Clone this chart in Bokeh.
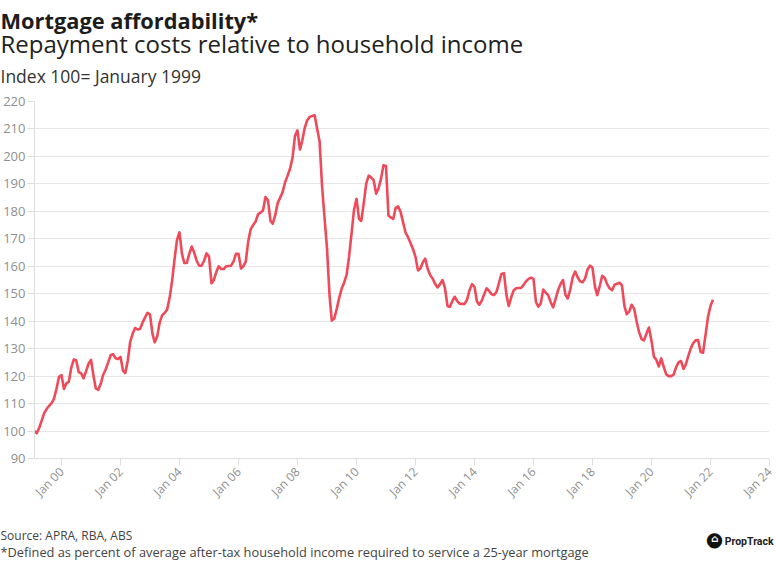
import pandas as pd
from math import pi
from bokeh.plotting import figure
from bokeh.layouts import column
from bokeh.models import (Range1d, FixedTicker, DatetimeTickFormatter, Label,
                          ColumnDataSource)
from bokeh.embed import file_html
from bokeh.resources import INLINE

# ---- data: monthly index (100 = January 1999), Jan 1999 .. Jan 2022 ----
start_year = 1999
v1999 = [100, 99.2, 101.2, 103.8, 106.5, 108, 109.2, 110.2, 111.8, 115.5, 119.7, 120.4]
v2000 = [115.3, 117.3, 118, 123, 126, 125.8, 121.5, 121, 119.2, 121.8, 124.5, 125.9]
v2001 = [120, 115.5, 115, 117.2, 120.5, 122.4, 125, 127.6, 128, 126.5, 126.2, 127]
v2002 = [122, 121.1, 125.6, 132.5, 135.5, 137.5, 137, 137.2, 139.5, 141.4, 143, 142.5]
v2003 = [135.4, 132.3, 134.5, 139.5, 142.2, 143, 144.2, 148.5, 154.5, 162.5, 169.5, 172.4]
v2004 = [164.5, 161.2, 161.2, 164.5, 167.2, 165, 162, 160.2, 160.2, 162, 164.7, 163.5]
v2005 = [153.8, 155, 157.9, 160, 159, 159, 160, 160.1, 160.2, 161.8, 164.5, 164.5]
v2006 = [159.2, 160, 161.7, 169, 173.5, 175, 176.3, 179, 179.5, 180.4, 185.2, 184]
v2007 = [176.5, 175.5, 178.6, 183, 185, 187, 190.6, 193, 195.5, 199.5, 207.4, 209.5]
v2008 = [202.5, 205.8, 210.5, 213.2, 214.4, 214.7, 215, 210, 205.5, 189, 177.8, 166.5]
v2009 = [149.5, 140.2, 141, 144.4, 148.5, 151.8, 154, 157, 163.5, 172, 180.5, 184.6]
v2010 = [177.3, 176.5, 183, 190, 193, 192.4, 191.4, 186.4, 188.3, 192, 196.8, 196.5]
v2011 = [178.5, 177.8, 177.2, 181.3, 181.8, 179.8, 176, 172.2, 170.6, 168.5, 166.3, 163.5]
v2012 = [158.5, 159.1, 161.4, 162.8, 159, 156.8, 155.5, 153.6, 152.3, 153.5, 155, 152]
v2013 = [145.5, 145.2, 147.3, 148.9, 147.3, 146.4, 146.3, 146.3, 147.8, 151.3, 153.5, 152.5]
v2014 = [147.2, 146, 147.5, 149.8, 152, 151, 149.8, 149.5, 150.7, 154, 157.2, 157.5]
v2015 = [149.5, 145.5, 148.7, 151.2, 152, 152.1, 152.1, 153.2, 154.5, 155.4, 155.8, 155.5]
v2016 = [147, 145.3, 146.5, 151.5, 150.4, 149.5, 147, 145, 148, 151.3, 153.5, 155]
v2017 = [149.5, 148.3, 151.5, 156, 158.1, 156, 154.5, 154.2, 155.5, 158.8, 160.2, 159.5]
v2018 = [152.5, 149.5, 152.8, 156.5, 155.8, 153.5, 152, 151.3, 153.3, 153.6, 154, 153]
v2019 = [145.5, 142.6, 143.5, 146, 144.5, 140, 136, 133.5, 133, 135.5, 137.7, 133]
v2020 = [127, 126, 123.5, 126.5, 123.4, 120.7, 120, 120, 120.5, 123.2, 125, 125.5]
v2021 = [122.6, 124.2, 127.3, 130, 132, 133, 133.1, 128.8, 128.5, 135, 141.5, 145.5]
v2022 = [147.8]

tick_years = [2000, 2002, 2004, 2006, 2008, 2010, 2012, 2014, 2016, 2018, 2020, 2022, 2024]
tick_labels = ["Jan 00", "Jan 02", "Jan 04", "Jan 06", "Jan 08", "Jan 10", "Jan 12",
               "Jan 14", "Jan 16", "Jan 18", "Jan 20", "Jan 22", "Jan 24"]
y_ticks = [90, 100, 110, 120, 130, 140, 150, 160, 170, 180, 190, 200, 210, 220]

values = (v1999 + v2000 + v2001 + v2002 + v2003 + v2004 + v2005 + v2006 + v2007 + v2008
          + v2009 + v2010 + v2011 + v2012 + v2013 + v2014 + v2015 + v2016 + v2017
          + v2018 + v2019 + v2020 + v2021 + v2022)
dates = [(pd.Timestamp(year=start_year + i // 12, month=i % 12 + 1, day=1)
          + pd.offsets.MonthEnd(0)) for i in range(len(values))]
src = ColumnDataSource(dict(date=dates, value=values))

FONT = "Open Sans"
RED = "#EE4A5A"
GRID = "#e6e6e6"
W = 776
H_HEAD, H_MAIN, H_FOOT = 91, 427, 47


def blank(height):
    f = figure(width=W, height=height, output_backend="svg", toolbar_location=None,
               x_range=Range1d(0, W), y_range=Range1d(0, height),
               x_axis_location=None, y_axis_location=None, frame_align=False,
               min_border_left=0, min_border_right=0, min_border_top=0, min_border_bottom=0)
    f.outline_line_color = None
    f.grid.visible = False
    return f


def lab(f, text, x, y, size, color, style="normal", align="left", baseline="alphabetic",
        font=FONT, **kw):
    # x from the left edge, y from the top edge of the canvas, in pixels
    f.add_layout(Label(text=text, x=x, y=f.height - y, x_units="screen", y_units="screen",
                       text_font=font, text_font_size=size, text_color=color,
                       text_font_style=style, text_align=align, text_baseline=baseline, **kw))


# ---- header ----
head = blank(H_HEAD)
lab(head, "Mortgage affordability*", 0, 20, "21.8px", "#1c1c1c", style="bold")
lab(head, "Repayment costs relative to household income", 0, 43, "24px", "#222222")
lab(head, "Index 100= January 1999", 0, 75, "17.5px", "#333333")

# ---- main chart ----
p = figure(width=W, height=H_MAIN, x_axis_type="datetime",
           output_backend="svg", toolbar_location=None, frame_align=False,
           min_border_left=34, min_border_right=7, min_border_top=10, min_border_bottom=60,
           x_range=Range1d(dates[0], pd.Timestamp("2024-01-01")),
           y_range=Range1d(90, 220))
p.outline_line_color = None

p.line("date", "value", source=src, line_color=RED, line_width=2.6, line_join="round")

tick_ms = [pd.Timestamp(f"{y}-01-01").value // 10**6 for y in tick_years]
p.xaxis.ticker = FixedTicker(ticks=tick_ms)
p.xaxis.formatter = DatetimeTickFormatter(years="Jan %y", months="Jan %y", days="Jan %y")
p.xaxis.major_label_overrides = {t: l for t, l in zip(tick_ms, tick_labels)}
p.xaxis.major_label_orientation = pi / 4
p.yaxis.ticker = FixedTicker(ticks=y_ticks)
for ax in (p.xaxis[0], p.yaxis[0]):
    ax.axis_line_color = "#dedede"
    ax.major_tick_line_color = "#dedede"
    ax.minor_tick_line_color = None
    ax.major_tick_in = 0
    ax.major_tick_out = 7
    ax.major_label_text_font = FONT
    ax.major_label_text_color = "#8f8f8f"
p.xaxis.major_label_text_font_size = "12px"
p.yaxis.major_label_text_font_size = "13px"
p.xaxis.major_label_standoff = 4
p.yaxis.major_label_standoff = 2
p.xgrid.grid_line_color = None
p.ygrid.grid_line_color = GRID
p.ygrid.grid_line_width = 1

# ---- footer ----
foot = blank(H_FOOT)
lab(foot, "Source: APRA, RBA, ABS", 0, 17, "12px", "#444444")
lab(foot, "*Defined as percent of average after-tax household income required to service a 25-year mortgage",
    0, 33, "12.8px", "#444444")
lab(foot, "\u25CF", 714, 20, "20px", "#111111", align="center", baseline="middle", font="DejaVu Sans")
lab(foot, "\u2302", 714, 20, "10px", "white", style="bold", align="center", baseline="middle",
    font="DejaVu Sans")
lab(foot, "PropTrack", 773, 23, "10.5px", "#222222", style="bold", align="right", font="Roboto")

layout = column(head, p, foot, spacing=0)
open("out.html", "w").write(file_html(layout, INLINE))
